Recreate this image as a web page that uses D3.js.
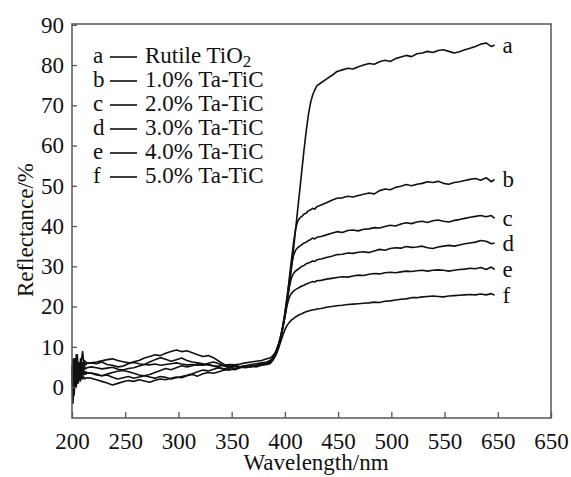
<!DOCTYPE html>
<html>
<head>
<meta charset="utf-8">
<script src="https://cdnjs.cloudflare.com/ajax/libs/d3/7.8.5/d3.min.js"></script>
<style>
  body { margin: 0; background: #fff; }
  svg text { font-family: "Liberation Serif", "Times New Roman", serif; fill: #111; }
</style>
</head>
<body>
<div id="chart"></div>
<script>
// wavelength grid (nm), shared by all six spectra
var wavelength = [
  200, 201, 202, 203, 204, 205, 206, 207, 208, 209, 210, 211, 212, 213, 214,
  218, 223, 228, 233, 238, 243, 248, 253, 258, 263, 268, 273, 278, 283, 288, 293, 298,
  303, 308, 313, 318, 323, 328, 333, 338, 343, 348, 353, 358, 363, 368, 373, 378, 383,
  386, 388, 390, 392, 394, 396, 398, 400, 402, 404, 406, 408, 410, 412, 414, 416, 418,
  420, 422, 424, 426, 428, 430,
  434, 439, 444, 449, 454, 459, 464, 469, 474, 479, 484, 489, 494, 499, 504, 509, 514,
  519, 524, 529, 534, 539, 544, 549, 554, 559, 564, 569, 574, 579, 584, 589, 594,
  597
];

// reflectance (%)
var rutileTiO2 = [
  5, 2, 7, 3, 8, 1, 6, 3, 7, 4, 6, 5, 6, 5.5, 6,
  6.0, 6.2, 6.5, 6.8, 7.0, 6.6, 6.3, 6.0, 6.1, 5.8, 5.6, 5.5, 5.7, 5.4, 5.6, 5.8, 6.0,
  5.7, 5.5, 5.6, 5.4, 5.5, 5.6, 5.3, 5.2, 5.4, 5.6, 5.5, 5.7, 6.0, 6.2, 6.4, 6.6, 7.0,
  7.2, 7.6, 8.2, 9.2, 10.6, 12.4, 14.6, 17.4, 20.8, 24.8, 29.2, 34.0, 39.0, 44.0, 49.0, 54.0, 59.0,
  63.5, 67.5, 70.5, 72.5, 73.8, 74.8,
  75.6, 76.5, 77.4, 78.4, 78.8, 79.2, 79.0, 79.6, 80.0, 80.4, 80.2, 80.8, 81.2, 80.9, 81.6, 82.0, 82.4,
  82.1, 82.8, 83.0, 83.4, 83.1, 83.6, 83.8, 83.4, 83.0, 83.3, 83.8, 84.2, 84.6, 85.2, 85.5, 84.6,
  85.0
];
var taTiC10 = [
  3, 6, 1, 7, 2, 8, 3, 6, 4, 7, 8.8, 6, 6.5, 6.2, 6,
  6.0, 5.8, 6.2, 5.6, 5.4, 5.0, 5.2, 5.8, 6.3, 6.6, 7.2, 7.6, 8.0, 7.8, 8.4, 8.8, 9.2,
  8.8, 9.0, 8.5, 8.0, 7.6, 7.8, 7.3, 6.4, 5.6, 5.2, 5.4, 5.0, 5.3, 5.6, 5.8, 6.0, 6.2,
  6.6, 7.0, 7.8, 9.0, 10.6, 12.6, 15.2, 18.4, 22.2, 26.6, 31.2, 35.6, 39.2, 41.2, 42.0, 42.4, 43.0,
  43.2, 43.8, 44.0, 44.4, 44.2, 44.8,
  45.2, 45.8, 46.4, 46.9, 47.0, 47.4, 47.2, 47.6, 47.9, 48.2, 48.0, 48.8, 49.2, 49.0, 49.6, 49.9, 50.3,
  50.0, 50.4, 50.6, 51.0, 50.8, 51.1, 50.6, 50.4, 50.8, 51.0, 51.3, 51.6, 51.8, 51.4, 52.0, 51.0,
  51.6
];
var taTiC20 = [
  4, -1, 5, 2, 6, 3, 5, 2, 5, 3.5, 5, 4, 5, 4.5, 4.8,
  5.0, 4.8, 4.5, 4.7, 4.9, 4.4, 4.2, 4.6, 4.8, 5.2, 5.6, 6.2, 6.8, 7.3, 6.9, 6.4, 6.8,
  7.2, 6.6, 6.2, 6.0, 5.8, 5.5, 5.2, 4.8, 4.4, 4.2, 4.6, 4.9, 5.2, 5.0, 5.4, 5.8, 6.0,
  6.3, 6.9, 7.6, 8.8, 10.4, 12.4, 15.0, 18.2, 22.0, 26.0, 29.8, 32.6, 34.0, 34.6, 35.0, 35.4, 35.8,
  36.0, 36.4, 36.6, 37.0, 36.8, 37.2,
  37.4, 37.8, 38.2, 38.6, 38.4, 38.9, 39.0, 38.8, 39.2, 39.3, 39.6, 39.5, 39.9, 40.2, 40.0, 40.5, 40.8,
  40.6, 41.0, 41.2, 40.9, 41.3, 41.5, 41.2, 41.0, 41.4, 41.6, 41.9, 42.2, 42.4, 42.6, 42.3, 42.6,
  41.9
];
var taTiC30 = [
  2, -4, 3, 0, 4, 1, 5, 2, 4, 2.5, 3.5, 3, 3.5, 3.2, 3.5,
  3.4, 3.0, 2.8, 3.2, 3.6, 3.9, 4.1, 3.8, 3.4, 3.0, 2.8, 3.1, 3.6, 4.1, 4.6, 4.3, 4.8,
  5.3, 5.0, 5.3, 5.7, 5.4, 5.9, 6.2, 5.8, 5.2, 5.0, 4.6, 5.0, 5.3, 5.1, 5.4, 5.6, 5.8,
  6.2, 6.8, 7.5, 8.6, 10.2, 12.2, 14.8, 17.8, 21.2, 24.6, 27.0, 28.2, 28.8, 29.2, 29.6, 30.0, 30.2,
  30.6, 30.8, 31.0, 31.3, 31.2, 31.6,
  31.8, 32.2, 32.5, 32.9, 33.0, 33.3, 33.2, 33.5, 33.6, 33.4, 33.8, 34.2, 34.0, 34.4, 34.6, 34.5, 34.9,
  34.7, 34.8, 35.0, 34.6, 34.4, 34.8, 35.0, 35.2, 35.0, 35.3, 35.6, 35.8, 36.0, 36.4, 36.2, 35.6,
  35.8
];
var taTiC40 = [
  1, 4, -2, 3, 0, 4, 1, 3, 1.5, 3, 2, 2.5, 2, 2.2, 2.3,
  2.2, 1.8, 1.4, 1.0, 0.5, 0.9, 1.3, 1.6, 1.4, 1.8, 1.5, 1.2, 1.7, 2.0, 1.8, 2.2, 2.5,
  2.3, 2.8, 3.1, 2.7, 3.3, 3.6, 3.4, 3.8, 4.2, 4.5, 4.3, 4.8, 5.0, 5.2, 5.0, 5.4, 5.8,
  6.0, 6.6, 7.4, 8.4, 10.0, 12.0, 14.6, 17.4, 20.2, 22.2, 23.2, 23.8, 24.2, 24.5, 24.8, 25.1, 25.3,
  25.6, 25.8, 26.0, 26.2, 26.1, 26.4,
  26.5, 26.8, 27.0, 27.2, 27.4, 27.3, 27.6, 27.8, 27.7, 28.0, 28.2, 28.1, 28.4, 28.5, 28.4, 28.6, 28.8,
  28.7, 28.9, 29.0, 28.8, 29.0, 29.1, 29.0, 28.8, 29.0, 29.2, 29.3, 29.5, 29.4, 29.7, 29.2, 29.8,
  29.2
];
var taTiC50 = [
  4, 7, 2, 6, 3, 5, 2, 4.5, 3, 4.5, 3.5, 4, 3.5, 3.8, 3.6,
  3.5, 3.2, 2.8, 3.0, 2.4, 2.0, 2.3, 2.6, 2.2, 2.5, 2.8, 2.5, 2.2, 2.6, 2.4, 2.0, 2.3,
  2.6, 2.9, 3.3, 3.8, 4.2, 4.0, 4.4, 4.8, 4.5, 4.9, 5.2, 5.0, 4.8, 5.1, 5.3, 5.4, 5.6,
  5.8, 6.4, 7.2, 8.2, 9.6, 11.2, 12.8, 14.2, 15.3, 16.0, 16.6, 17.0, 17.4, 17.7, 18.0, 18.2, 18.5,
  18.7, 18.9, 19.0, 19.2, 19.2, 19.4,
  19.5, 19.8, 20.0, 20.2, 20.3, 20.5, 20.6, 20.7, 20.8, 20.9, 21.1, 21.0, 21.3, 21.4, 21.6, 21.8, 21.9,
  22.2, 22.2, 22.4, 22.5, 22.6, 22.5, 22.4, 22.6, 22.7, 22.8, 22.9, 23.0, 22.9, 23.1, 22.9, 23.2,
  22.8
];

var curveTags = ["a", "b", "c", "d", "e", "f"];
var legendNames = ["Rutile TiO", "1.0% Ta-TiC", "2.0% Ta-TiC", "3.0% Ta-TiC", "4.0% Ta-TiC", "5.0% Ta-TiC"];
var xTicks = [200, 250, 300, 350, 400, 450, 500, 550, 600, 650];
var xTickLabels = ["200", "250", "300", "350", "400", "450", "500", "550", "650", "650"];
var yTicks = [0, 10, 20, 30, 40, 50, 60, 70, 80, 90];

var allSeries = [rutileTiO2, taTiC10, taTiC20, taTiC30, taTiC40, taTiC50];

var width = 571, height = 477;
var plotLeft = 72, plotRight = 551, plotTop = 24, plotBottom = 418;

var svg = d3.select("#chart").append("svg")
  .attr("width", width)
  .attr("height", height);

var x = d3.scaleLinear().domain([200, 650]).range([plotLeft, plotRight]);
var y = d3.scaleLinear().domain([-7.7, 90.2]).range([plotBottom, plotTop]);

// curves
var line = d3.line()
  .x(function (d) { return x(d[0]); })
  .y(function (d) { return y(d[1]); });

allSeries.forEach(function (vals, i) {
  var pts = wavelength.map(function (w, j) { return [w, vals[j]]; });
  svg.append("path")
    .datum(pts)
    .attr("d", line)
    .attr("fill", "none")
    .attr("stroke", "#111")
    .attr("stroke-width", 1.6)
    .attr("stroke-linejoin", "round");

  svg.append("text")
    .attr("x", x(wavelength[wavelength.length - 1]) + 8)
    .attr("y", y(vals[vals.length - 1]))
    .attr("dy", "0.33em")
    .attr("font-size", 23)
    .text(curveTags[i]);
});

// frame
svg.append("rect")
  .attr("x", plotLeft).attr("y", plotTop)
  .attr("width", plotRight - plotLeft).attr("height", plotBottom - plotTop)
  .attr("fill", "none")
  .attr("stroke", "#555")
  .attr("stroke-width", 1.5);

// axes, ticks inside the frame
var xAxis = svg.append("g")
  .attr("transform", "translate(0," + plotBottom + ")")
  .call(d3.axisBottom(x).tickValues(xTicks)
    .tickFormat(function (d, i) { return xTickLabels[i]; })
    .tickSizeInner(-6).tickSizeOuter(0).tickPadding(15));

var yAxis = svg.append("g")
  .attr("transform", "translate(" + plotLeft + ",0)")
  .call(d3.axisLeft(y).tickValues(yTicks)
    .tickSizeInner(-5).tickSizeOuter(0).tickPadding(8));

[xAxis, yAxis].forEach(function (g) {
  g.attr("font-family", null).attr("font-size", null);
  g.select(".domain").remove();
  g.selectAll(".tick line").attr("stroke", "#555").attr("stroke-width", 1.3);
  g.selectAll(".tick text").attr("font-size", 23).attr("fill", "#111");
});

// axis titles
svg.append("text")
  .attr("x", 316).attr("y", 470)
  .attr("text-anchor", "middle")
  .attr("font-size", 23)
  .text("Wavelength/nm");

svg.append("text")
  .attr("transform", "translate(33,230) rotate(-90)")
  .attr("text-anchor", "middle")
  .attr("font-size", 23)
  .text("Reflectance/%");

// legend
var legend = svg.append("g");
curveTags.forEach(function (tag, i) {
  var by = 63 + i * 24;
  legend.append("text").attr("x", 93).attr("y", by).attr("font-size", 23).text(tag);
  legend.append("line")
    .attr("x1", 110).attr("x2", 137)
    .attr("y1", by - 6).attr("y2", by - 6)
    .attr("stroke", "#111").attr("stroke-width", 1.6);
  var t = legend.append("text").attr("x", 145).attr("y", by).attr("font-size", 23);
  t.append("tspan").text(legendNames[i]);
  if (i === 0) {
    t.append("tspan").attr("dy", 4).attr("font-size", 17).text("2");
  }
});
</script>
</body>
</html>
